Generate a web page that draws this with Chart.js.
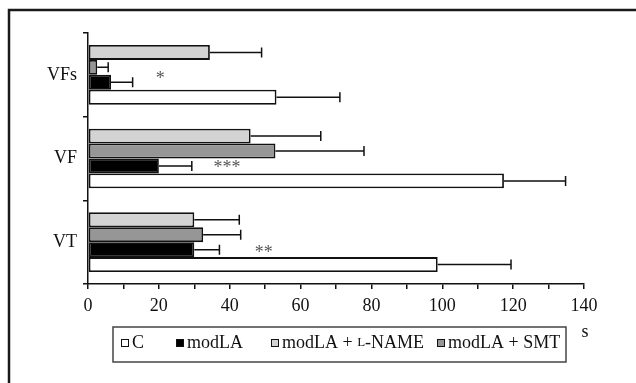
<!DOCTYPE html>
<html>
<head>
<meta charset="utf-8">
<script src="https://cdn.jsdelivr.net/npm/chart.js@4/dist/chart.umd.min.js"></script>
<style>
  html, body { margin: 0; padding: 0; background: #fff; }
  #wrap { width: 636px; height: 383px; position: relative; }
</style>
</head>
<body>
<div id="wrap"><canvas id="chart"></canvas></div>
<script>
// categories, top to bottom
const categories = ["VFs", "VF", "VT"];

// series names in legend order
const seriesNames = ["C", "modLA", "modLA + L-NAME", "modLA + SMT"];

// means and upper error (s)
const cMean = [53.2, 117.4, 98.7];
const cErr = [17.9, 17.4, 20.7];
const modlaMean = [6.5, 20.0, 30.0];
const modlaErr = [6.1, 9.3, 7.1];
const lnameMean = [34.4, 45.9, 30.0];
const lnameErr = [14.6, 19.8, 12.7];
const smtMean = [2.6, 52.9, 32.5];
const smtErr = [3.1, 25.0, 10.6];

const xMin = 0;
const xMax = 140;
const xStep = 10;
const xLabelEvery = 20;
const unitLabel = "s";

// significance marks: category, x value, text
const sigCats = ["VFs", "VF", "VT"];
const sigX = [19.1, 35.4, 47.1];
const sigText = ["*", "***", "**"];

const serif = "'Liberation Serif', 'DejaVu Serif', serif";

// datasets in drawing order (top bar first)
const datasets = [
  { label: seriesNames[2], data: lnameMean, err: lnameErr, backgroundColor: "#d3d3d3" },
  { label: seriesNames[3], data: smtMean, err: smtErr, backgroundColor: "#969696" },
  { label: seriesNames[1], data: modlaMean, err: modlaErr, backgroundColor: "#000000" },
  { label: seriesNames[0], data: cMean, err: cErr, backgroundColor: "#ffffff" }
].map(d => Object.assign(d, { borderColor: "#111", borderWidth: 1.8, borderSkipped: false }));

const legendOrder = [3, 2, 0, 1]; // dataset index for each legend entry

function drawLabel(ctx, text, x, y, size) {
  // "L" of L-NAME is set in small caps
  const i = text.indexOf("L-NAME");
  const parts = i >= 0
    ? [[text.slice(0, i), size], ["L", Math.round(size * 0.72)], [text.slice(i + 1), size]]
    : [[text, size]];
  for (const [t, s] of parts) {
    ctx.font = s + "px " + serif;
    ctx.fillText(t, x, y);
    x += ctx.measureText(t).width;
  }
}

const extras = {
  id: "extras",
  beforeDraw(chart) {
    const ctx = chart.ctx;
    ctx.save();
    ctx.strokeStyle = "#1a1a1a";
    ctx.lineWidth = 2.5;
    ctx.strokeRect(9, 10, 800, 600);
    ctx.restore();
  },
  afterDatasetsDraw(chart) {
    const ctx = chart.ctx;
    const xs = chart.scales.x;
    ctx.save();
    ctx.strokeStyle = "#111";
    ctx.lineWidth = 1.5;
    chart.data.datasets.forEach((ds, di) => {
      const meta = chart.getDatasetMeta(di);
      meta.data.forEach((bar, i) => {
        const x0 = xs.getPixelForValue(ds.data[i]);
        const x1 = xs.getPixelForValue(ds.data[i] + ds.err[i]);
        ctx.beginPath();
        ctx.moveTo(x0, bar.y);
        ctx.lineTo(x1, bar.y);
        ctx.moveTo(x1, bar.y - 5);
        ctx.lineTo(x1, bar.y + 5);
        ctx.stroke();
      });
    });
    // significance marks beside the modLA bars
    const mi = chart.data.datasets.findIndex(d => d.label === "modLA");
    const meta = chart.getDatasetMeta(mi);
    const dy = [-3, 2, 4];
    ctx.fillStyle = "#555";
    ctx.textAlign = "left";
    ctx.textBaseline = "middle";
    ctx.font = "18px " + serif;
    sigCats.forEach((c, k) => {
      const bar = meta.data[categories.indexOf(c)];
      ctx.fillText(sigText[k], xs.getPixelForValue(sigX[k]), bar.y + dy[k]);
    });
    ctx.restore();
  },
  afterDraw(chart) {
    const ctx = chart.ctx;
    const xs = chart.scales.x;
    ctx.save();
    // unit label
    ctx.fillStyle = "#111";
    ctx.font = "18px " + serif;
    ctx.textAlign = "center";
    ctx.textBaseline = "middle";
    ctx.fillText(unitLabel, xs.getPixelForValue(xMax) + 1, 332);
    // legend box
    ctx.strokeStyle = "#444";
    ctx.lineWidth = 1.5;
    ctx.strokeRect(113, 327, 453, 35);
    const itemX = [121, 176, 271, 437];
    ctx.textAlign = "left";
    ctx.textBaseline = "middle";
    legendOrder.forEach((di, k) => {
      const ds = chart.data.datasets[di];
      ctx.fillStyle = ds.backgroundColor;
      ctx.fillRect(itemX[k], 339, 8, 8);
      ctx.lineWidth = 1;
      ctx.strokeStyle = "#111";
      ctx.strokeRect(itemX[k] + 0.5, 339.5, 7, 7);
      ctx.fillStyle = "#111";
      drawLabel(ctx, ds.label, itemX[k] + 11, 343, 18);
    });
    ctx.restore();
  }
};

new Chart(document.getElementById("chart"), {
  type: "bar",
  data: { labels: categories, datasets: datasets },
  options: {
    indexAxis: "y",
    responsive: true,
    maintainAspectRatio: false,
    animation: false,
    events: [],
    layout: { padding: { left: 0, right: 52, top: 33, bottom: 0 } },
    datasets: { bar: { categoryPercentage: 0.714, barPercentage: 1.0 } },
    plugins: { legend: { display: false }, tooltip: { enabled: false } },
    scales: {
      x: {
        min: xMin,
        max: xMax,
        afterFit(s) { s.height = 99; },
        border: { display: true, color: "#111", width: 1.5 },
        grid: { drawOnChartArea: false, drawTicks: true, tickLength: 5, color: "#111", lineWidth: 1.5 },
        ticks: {
          stepSize: xStep,
          autoSkip: false,
          maxRotation: 0,
          color: "#111",
          padding: 6,
          font: { family: serif, size: 18 },
          callback: v => (v % xLabelEvery === 0 ? v : "")
        }
      },
      y: {
        afterFit(s) { s.width = 88; },
        border: { display: true, color: "#111", width: 1.5 },
        grid: { offset: true, drawOnChartArea: false, drawTicks: true, tickLength: 5, color: "#111", lineWidth: 1.5 },
        ticks: { color: "#111", padding: 6, font: { family: serif, size: 18 } }
      }
    }
  },
  plugins: [extras]
});
</script>
</body>
</html>
